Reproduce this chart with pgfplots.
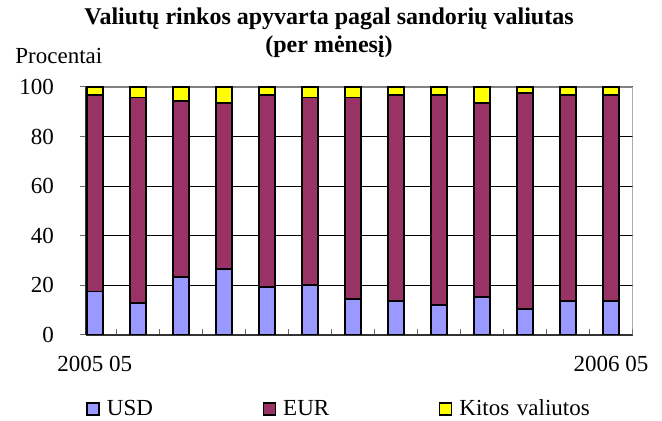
\documentclass[border=0pt]{standalone}
\usepackage{pgfplots}
\pgfplotsset{compat=1.18}
\usepackage{fontspec}
\setmainfont{Liberation Serif}
\definecolor{usd}{HTML}{9999FF}
\definecolor{eur}{HTML}{993366}
\definecolor{kit}{HTML}{FFFF00}
\newcommand{\lblfont}{\fontsize{11.5}{13}\selectfont}
\begin{document}
\begin{tikzpicture}
\useasboundingbox (-43pt,-43pt) rectangle (288pt,167.5pt);
\begin{axis}[
  at={(0,0)}, anchor=south west,
  scale only axis, width=273.3pt, height=124pt,
  xmin=-0.202, xmax=12.5, ymin=0, ymax=100,
  ybar stacked, bar width=8pt,
  axis lines=left,
  axis line style={-, black!80, line width=0.6pt},
  xtick={0.5,1.5,...,12.5}, xticklabels={},
  extra x ticks={0,12},
  extra x tick labels={2005 05,2006 05},
  extra x tick style={major tick length=0pt, grid=none,
     tick label style={yshift=-7pt}},
  ytick={0,20,...,100},
  ymajorgrids, grid style={black, line width=0.5pt},
  tick align=inside, major tick length=3pt,
  tick style={black!60, line width=0.5pt},
  y tick style={xshift=-3pt},
  yticklabel style={xshift=-12.5pt},
  /pgf/number format/assume math mode=true,
  tick label style={font=\lblfont},
  legend columns=3,
  legend style={at={(0,-0.2984)}, anchor=west, draw=none, fill=none,
     font=\lblfont, inner sep=0pt,
     /tikz/every even column/.append style={text width=75.8pt}},
  legend cell align=left,
  legend image code/.code={\draw[#1,draw=black,line width=0.6pt] (0pt,-3pt) rectangle (6pt,3pt); \path[draw=none,fill=none] (0pt,0pt) rectangle (8pt,0.1pt);},
]
\addplot[fill=usd, draw=black, line width=0.9pt] coordinates {
(0,17.5) (1,13.0) (2,23.3) (3,26.5) (4,19.5) (5,20.0) (6,14.5)
(7,13.7) (8,12.1) (9,15.2) (10,10.5) (11,13.7) (12,13.7)};
\addplot[fill=eur, draw=black, line width=0.9pt] coordinates {
(0,79.3) (1,82.8) (2,71.0) (3,66.9) (4,77.3) (5,75.8) (6,81.3)
(7,83.1) (8,84.7) (9,78.2) (10,87.0) (11,83.1) (12,83.1)};
\addplot[fill=kit, draw=black, line width=0.9pt] coordinates {
(0,3.2) (1,4.2) (2,5.7) (3,6.6) (4,3.2) (5,4.2) (6,4.2)
(7,3.2) (8,3.2) (9,6.6) (10,2.5) (11,3.2) (12,3.2)};
\legend{USD, EUR, Kitos valiutos}
\draw[gray, line width=0.6pt] (rel axis cs:0,1) -- (rel axis cs:1,1) -- (rel axis cs:1,0);
\end{axis}
\node[anchor=base, font=\fontsize{12}{14}\selectfont\bfseries] at (121.5pt,155pt) {Valiutų rinkos apyvarta pagal sandorių valiutas};
\node[anchor=base, font=\fontsize{12}{14}\selectfont\bfseries] at (121.5pt,141pt) {(per mėnesį)};
\node[anchor=base west, inner sep=0pt, font=\lblfont] at (-35.5pt,135.5pt) {Procentai};
\end{tikzpicture}
\end{document}
